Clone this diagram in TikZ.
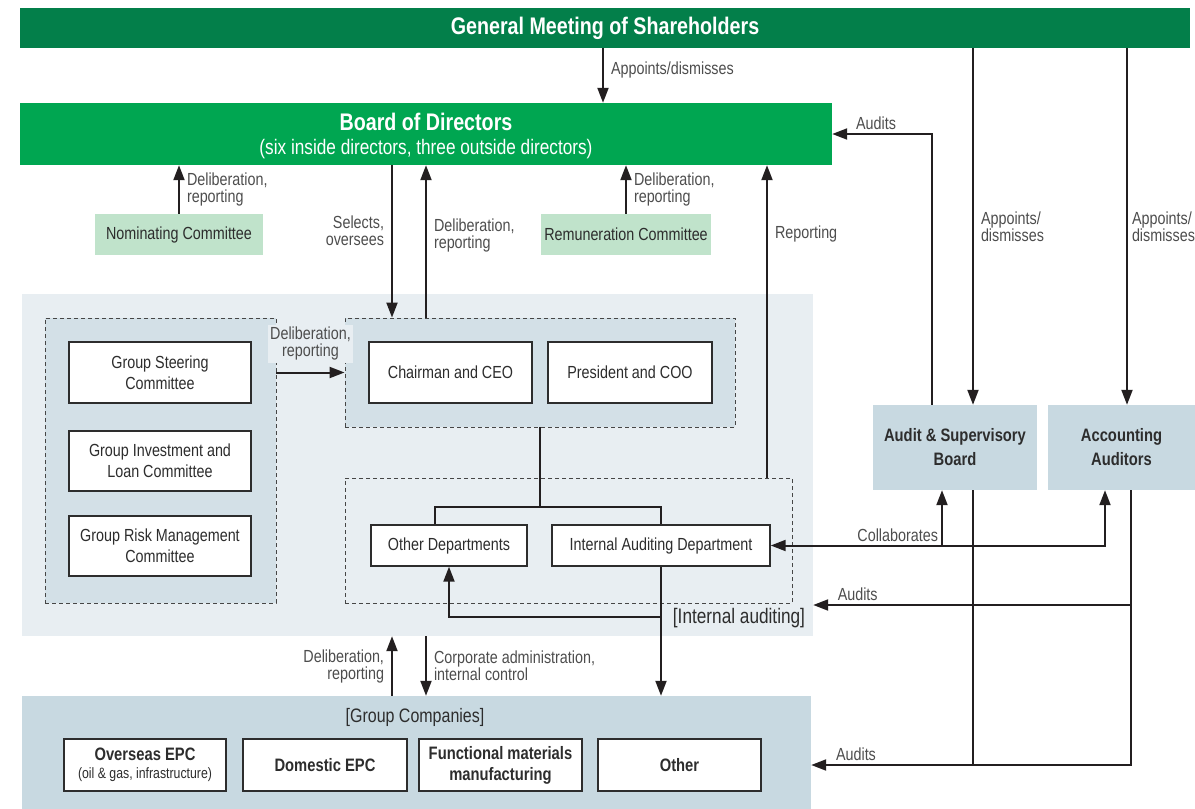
\documentclass[tikz,border=0pt]{standalone}
\usepackage{fontspec}
\setmainfont{Liberation Sans}[FakeStretch=0.82]
\usepackage{xcolor}
\usepackage{tikz}
\usetikzlibrary{positioning,arrows.meta}

\definecolor{gmsgreen}{RGB}{3,127,74}
\definecolor{boardgreen}{RGB}{0,166,81}
\definecolor{commgreen}{RGB}{192,227,203}
\definecolor{areabg}{RGB}{232,238,242}
\definecolor{panelbg}{RGB}{211,224,231}
\definecolor{auditbg}{RGB}{200,217,225}
\definecolor{linecol}{RGB}{35,31,32}
\definecolor{labelcol}{RGB}{77,77,77}
\definecolor{textcol}{RGB}{45,45,45}
\definecolor{dashcol}{RGB}{70,70,70}

\tikzset{
	conn/.style={draw=linecol, line width=2pt},
	lbl/.style={text=labelcol, font=\fontsize{17.5}{17}\selectfont, align=left, inner xsep=7pt, inner ysep=3pt},
	box/.style={draw=textcol, line width=1.4pt, fill=white, inner sep=0pt, align=center, text=textcol, font=\fontsize{17.5}{21}\selectfont},
	panel/.style={draw=dashcol, dash pattern=on 4pt off 3pt, line width=0.9pt, inner sep=0pt},
	shade/.style={inner sep=0pt, align=center, text=textcol},
}

\begin{document}
\begin{tikzpicture}[x=1pt, y=-1pt, >={Triangle[length=15pt,width=11pt]}]
	\useasboundingbox (0,0) rectangle (1195,809);

	\node[shade, fill=gmsgreen, minimum width=1170pt, minimum height=40pt, text=white, font=\fontsize{24}{26}\selectfont\bfseries] (meeting) at (605,28) {General Meeting of Shareholders};
	\node[shade, fill=boardgreen, minimum width=812pt, minimum height=62pt, text=white, font=\fontsize{21}{24}\selectfont] (board) at (426,134) {\rule{0pt}{22pt}{\fontsize{24}{24}\selectfont\bfseries Board of Directors}\\(six inside directors, three outside directors)};
	\node[shade, fill=commgreen, minimum width=168pt, minimum height=41pt, font=\fontsize{17.5}{21}\selectfont] (nomcomm) at (179,234.5) {Nominating Committee};
	\node[shade, fill=commgreen, minimum width=170pt, minimum height=41pt, font=\fontsize{17.5}{21}\selectfont] (remcomm) at (626,234.5) {Remuneration Committee};

	\node[shade, fill=areabg, minimum width=791pt, minimum height=342pt] (execarea) at (417.5,465) {};
	\node[panel, fill=panelbg, minimum width=231pt, minimum height=285pt] (committees) at (160.5,460.5) {};
	\node[panel, fill=panelbg, minimum width=390pt, minimum height=109pt] (topmgmt) at (540,372.5) {};
	\node[panel, minimum width=447pt, minimum height=125pt] (auditing) at (568.5,540.5) {};

	\node[box, minimum width=182pt, minimum height=61pt] (steering) at (160,372.5) {Group Steering\\Committee};
	\node[box, minimum width=182pt, minimum height=60pt, below=26.6pt of steering] (investment) {Group Investment and\\Loan Committee};
	\node[box, minimum width=182pt, minimum height=60pt, below=23.6pt of investment] (riskmgmt) {Group Risk Management\\Committee};
	\node[box, minimum width=163pt, minimum height=61pt] (chairman) at (450.5,372.5) {Chairman and CEO};
	\node[box, minimum width=164pt, minimum height=61pt, right=14.6pt of chairman] (president) {President and COO};
	\node[box, minimum width=156pt, minimum height=41pt] (otherdept) at (449,545.5) {Other Departments};
	\node[box, minimum width=218pt, minimum height=41pt] (intaudit) at (661,545.5) {Internal Auditing Department};
	\node[text=textcol, font=\fontsize{21}{24}\selectfont, inner sep=0pt] (intlabel) at (739,618) {[Internal auditing]};

	\node[shade, fill=auditbg, minimum width=164pt, minimum height=85pt, font=\fontsize{18}{24}\selectfont\bfseries] (auditboard) at (955,447.5) {Audit \& Supervisory\\Board};
	\node[shade, fill=auditbg, minimum width=147pt, minimum height=85pt, font=\fontsize{18}{24}\selectfont\bfseries] (accauditors) at (1121.5,447.5) {Accounting\\Auditors};

	\node[shade, fill=auditbg, minimum width=789pt, minimum height=113pt] (groupcos) at (416.5,752.5) {};
	\node[text=textcol, font=\fontsize{19.5}{22}\selectfont, inner sep=0pt] (grplabel) at (415,717) {[Group Companies]};
	\node[box, minimum width=162pt, minimum height=52pt, font=\fontsize{18}{20}\selectfont\bfseries] (overseas) at (145,765) {Overseas EPC\\[-2pt]{\fontsize{15}{16}\selectfont\mdseries (oil \& gas, infrastructure)}};
	\node[box, minimum width=164pt, minimum height=52pt, font=\fontsize{18}{20}\selectfont\bfseries, right=15.6pt of overseas] (domestic) {Domestic EPC};
	\node[box, minimum width=163pt, minimum height=52pt, font=\fontsize{18}{21}\selectfont\bfseries, right=10.6pt of domestic] (functional) {Functional materials\\manufacturing};
	\node[box, minimum width=163pt, minimum height=52pt, font=\fontsize{18}{20}\selectfont\bfseries, right=14.6pt of functional] (othercos) {Other};

	\coordinate (split) at (540,507);
	\coordinate (iabranch) at (661,617);
	\coordinate (execaudit) at ([yshift=-140pt]execarea.east);
	\coordinate (grpaudit) at ([yshift=-12.5pt]groupcos.east);

	\draw[conn, ->] ([xshift=-2pt]meeting.south) -- ([xshift=-2pt]meeting.south |- board.north) node[lbl, pos=0.4, right] {Appoints/dismisses};
	\draw[conn, ->] (nomcomm.north) -- (nomcomm.north |- board.south) node[lbl, midway, right] {Deliberation,\\reporting};
	\draw[conn, ->] (remcomm.north) -- (remcomm.north |- board.south) node[lbl, midway, right] {Deliberation,\\reporting};
	\draw[conn, ->] ([xshift=-34pt]board.south) -- ([xshift=-34pt]board.south |- topmgmt.north) node[lbl, pos=0.43, left, align=right] {Selects,\\oversees};
	\draw[conn, ->] (board.south |- topmgmt.north) -- (board.south) node[lbl, pos=0.54, right] {Deliberation,\\reporting};
	\draw[conn, ->] ([xshift=198.5pt]auditing.north) -- ([xshift=198.5pt]auditing.north |- board.south) node[lbl, pos=0.78, right] {Reporting};
	\draw[conn, ->] ([xshift=-23pt]auditboard.north) |- (board.east) node[lbl, pos=0.78, above] {Audits};
	\draw[conn, ->] ([xshift=18pt]auditboard.north |- meeting.south) -- ([xshift=18pt]auditboard.north) node[lbl, midway, right] {Appoints/\\dismisses};
	\draw[conn, ->] ([xshift=5.5pt]accauditors.north |- meeting.south) -- ([xshift=5.5pt]accauditors.north) node[lbl, midway, right, inner xsep=4pt] {Appoints/\\dismisses};

	\draw[conn, ->] (committees.east |- steering) -- (topmgmt.west |- steering) node[lbl, midway, above=9pt, fill=areabg, align=center, inner sep=2pt] {Deliberation,\\reporting};
	\draw[conn] (topmgmt.south) -- (split);
	\draw[conn] ([xshift=-14pt]otherdept.north) |- (split) -| (intaudit.north);
	\draw[conn, ->] (intaudit.south) -- (intaudit.south |- groupcos.north);
	\draw[conn, ->] (iabranch) -| (otherdept.south);

	\draw[conn, <->] (intaudit.east) -| ([xshift=-16.5pt]accauditors.south);
	\draw[conn, ->] ([xshift=-13pt]auditboard.south |- intaudit.east) node[lbl, above left, inner xsep=3pt] {Collaborates} -- ([xshift=-13pt]auditboard.south);
	\draw[conn] ([xshift=18pt]auditboard.south) -- ([xshift=18pt]auditboard.south |- grpaudit);
	\draw[conn, ->] ([xshift=9.5pt]accauditors.south) |- (grpaudit) node[lbl, pos=0.93, above] {Audits};
	\draw[conn, ->] ([xshift=9.5pt]accauditors.south |- execaudit) -- (execaudit) node[lbl, pos=0.86, above] {Audits};

	\draw[conn, ->] ([xshift=-34pt]board.south |- groupcos.north) -- ([xshift=-34pt]board.south |- execarea.south) node[lbl, midway, left, align=right] {Deliberation,\\reporting};
	\draw[conn, ->] (board.south |- execarea.south) -- (board.south |- groupcos.north) node[lbl, midway, right] {Corporate administration,\\internal control};
\end{tikzpicture}
\end{document}
